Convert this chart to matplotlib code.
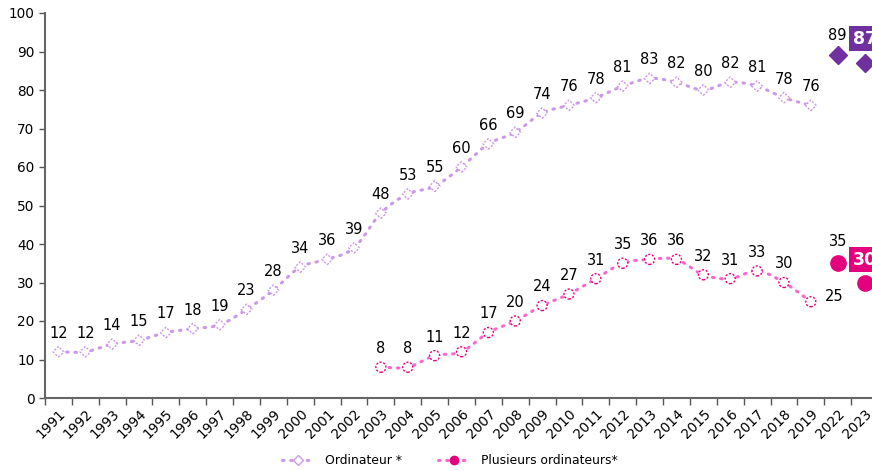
import numpy as np
import matplotlib
matplotlib.use("Agg")
import matplotlib.pyplot as plt
from matplotlib.lines import Line2D

years = [str(y) for y in range(1991, 2020)] + ["2022", "2023"]
ordinateur = [12, 12, 14, 15, 17, 18, 19, 23, 28, 34, 36, 39, 48, 53, 55, 60,
              66, 69, 74, 76, 78, 81, 83, 82, 80, 82, 81, 78, 76]
ordinateur_recent = [89, 87]
plusieurs_years = [str(y) for y in range(2003, 2020)]
plusieurs = [8, 8, 11, 12, 17, 20, 24, 27, 31, 35, 36, 36, 32, 31, 33, 30, 25]
plusieurs_recent = [35, 30]

C_ORD_LIGHT = "#cc99e6"
C_ORD_DARK = "#7030a0"
C_PL_LIGHT = "#ff66cc"
C_PL_DARK = "#e5007d"


def smooth(x, y, n=12):
    x = np.asarray(x, float)
    y = np.asarray(y, float)
    px = np.concatenate([[2 * x[0] - x[1]], x, [2 * x[-1] - x[-2]]])
    py = np.concatenate([[2 * y[0] - y[1]], y, [2 * y[-1] - y[-2]]])
    xs, ys = [], []
    t = np.linspace(0, 1, n, endpoint=False)
    for i in range(1, len(px) - 2):
        p0, p1, p2, p3 = px[i - 1:i + 3]
        q0, q1, q2, q3 = py[i - 1:i + 3]
        for arr, a0, a1, a2, a3 in ((xs, p0, p1, p2, p3), (ys, q0, q1, q2, q3)):
            arr.extend(0.5 * (2 * a1 + (-a0 + a2) * t + (2 * a0 - 5 * a1 + 4 * a2 - a3) * t ** 2
                              + (-a0 + 3 * a1 - 3 * a2 + a3) * t ** 3))
    xs.append(x[-1]); ys.append(y[-1])
    return np.array(xs), np.array(ys)


fig = plt.figure(figsize=(8.72, 4.71), dpi=100)
ax = fig.add_axes([45 / 872, 1 - 398 / 471, 833 / 872, (398 - 13) / 471])

xi = np.arange(len(years))
x_ord = xi[:len(ordinateur)]
x_pl = np.array([years.index(y) for y in plusieurs_years])
x_rec = xi[len(ordinateur):]

lw = 2.2
DOT = (0, (0.5, 2.2))
sx, sy = smooth(x_ord, ordinateur)
ax.plot(sx, sy, color=C_ORD_LIGHT, lw=lw, ls=DOT, dash_capstyle="round", zorder=2)
ax.scatter(x_ord, ordinateur, marker="D", s=30, facecolors="white", edgecolors=C_ORD_LIGHT,
           linewidths=1.0, linestyle=(0, (1.5, 1.2)), zorder=3)

sx, sy = smooth(x_pl, plusieurs)
ax.plot(sx, sy, color=C_PL_LIGHT, lw=lw, ls=DOT, dash_capstyle="round", zorder=2)
ax.scatter(x_pl, plusieurs, marker="o", s=52, facecolors="white", edgecolors=C_PL_DARK,
           linewidths=1.0, linestyle=(0, (1.5, 1.2)), zorder=3)

ax.plot(x_rec, ordinateur_recent, ls="none", marker="D", ms=9, color=C_ORD_DARK, zorder=3)
ax.plot(x_rec, plusieurs_recent, ls="none", marker="o", ms=11, color=C_PL_DARK, zorder=3)

fs = 10.5
for x, v in zip(x_ord, ordinateur):
    ax.annotate(str(v), (x, v), xytext=(0, 8), textcoords="offset points", ha="center", va="bottom", fontsize=fs)
for x, v in zip(x_pl, plusieurs):
    if years[x] == "2019":
        ax.annotate(str(v), (x, v), xytext=(10, 4), textcoords="offset points", ha="left", va="center", fontsize=fs)
    else:
        ax.annotate(str(v), (x, v), xytext=(0, 8), textcoords="offset points", ha="center", va="bottom", fontsize=fs)

ax.annotate(str(ordinateur_recent[0]), (x_rec[0], ordinateur_recent[0]), xytext=(0, 9),
            textcoords="offset points", ha="center", va="bottom", fontsize=fs)
ax.annotate(str(plusieurs_recent[0]), (x_rec[0], plusieurs_recent[0]), xytext=(0, 10),
            textcoords="offset points", ha="center", va="bottom", fontsize=fs)
ax.annotate(str(ordinateur_recent[1]), (x_rec[1], ordinateur_recent[1]), xytext=(0, 11),
            textcoords="offset points", ha="center", va="bottom", fontsize=12.5, fontweight="bold",
            color="white", bbox=dict(boxstyle="square,pad=0.2", fc=C_ORD_DARK, ec="none"))
ax.annotate(str(plusieurs_recent[1]), (x_rec[1], plusieurs_recent[1]), xytext=(0, 10),
            textcoords="offset points", ha="center", va="bottom", fontsize=12.5, fontweight="bold",
            color="white", bbox=dict(boxstyle="square,pad=0.2", fc=C_PL_DARK, ec="none"))

ax.set_xlim(-0.5, len(years) - 0.5)
ax.set_ylim(0, 100)
ax.set_yticks(range(0, 101, 10))
ax.set_xticks(xi)
ax.set_xticklabels(years, rotation=45, ha="right", rotation_mode="anchor", fontsize=9.8)
ax.set_xticks(np.arange(-0.5, len(years), 1), minor=True)
ax.tick_params(axis="x", which="major", length=0, pad=6)
ax.tick_params(axis="x", which="minor", length=5, color="#555555", width=1)
ax.tick_params(axis="y", length=4, color="#555555", width=1, labelsize=9.8)
for s in ["top", "right"]:
    ax.spines[s].set_visible(False)
ax.spines["left"].set_color("#666666")
ax.spines["left"].set_linewidth(1.5)
ax.spines["bottom"].set_color("#666666")
ax.spines["bottom"].set_linewidth(1.5)

h1 = Line2D([], [], color=C_ORD_LIGHT, lw=lw, ls=DOT, dash_capstyle="round",
            marker="D", ms=5, mfc="white", mec=C_ORD_LIGHT)
h2 = Line2D([], [], color=C_PL_LIGHT, lw=lw, ls=DOT, dash_capstyle="round",
            marker="o", ms=6, mfc=C_PL_DARK, mec=C_PL_DARK)
fig.legend([h1, h2], ["Ordinateur *", "Plusieurs ordinateurs*"], loc="center",
           bbox_to_anchor=(450 / 872, 1 - 461 / 471), ncol=2, frameon=False, fontsize=8.9,
           handlelength=2.6, handletextpad=0.9, columnspacing=2.9)

fig.savefig("out.png", dpi=100)
